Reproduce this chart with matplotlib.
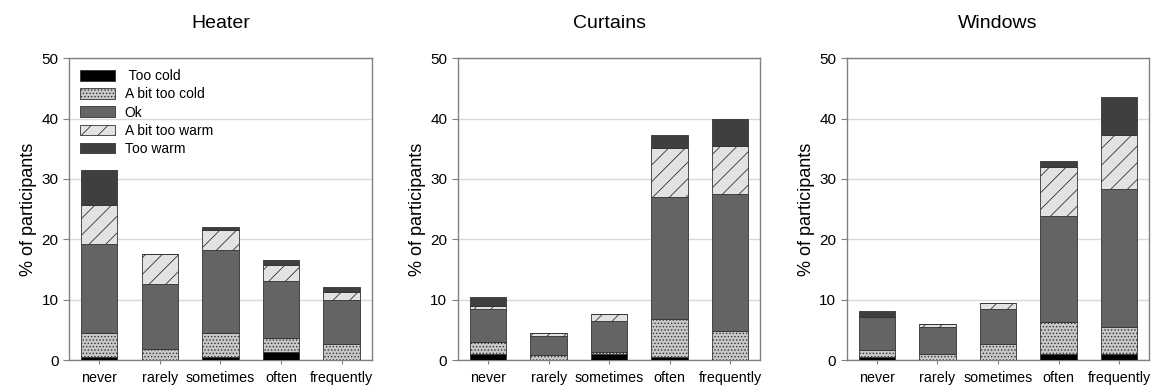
import numpy as np
import matplotlib.pyplot as plt

plt.rcParams['font.family'] = ['Liberation Sans', 'DejaVu Sans']
plt.rcParams['hatch.linewidth'] = 0.6

categories = ['never', 'rarely', 'sometimes', 'often', 'frequently']
levels = [' Too cold', 'A bit too cold', 'Ok', 'A bit too warm', 'Too warm']

# % of participants per level (rows: too cold .. too warm)
heater = [
    [0.55, 0.0, 0.5, 1.4, 0.0],
    [3.95, 1.8, 4.0, 2.2, 2.65],
    [14.8, 10.8, 13.8, 9.5, 7.25],
    [6.3, 5.0, 3.2, 2.6, 1.3],
    [5.9, 0.0, 0.5, 0.9, 0.95],
]
curtains = [
    [0.95, 0.0, 0.95, 0.45, 0.0],
    [2.05, 0.85, 0.45, 6.3, 4.8],
    [5.4, 3.2, 5.1, 20.25, 22.7],
    [0.55, 0.5, 1.1, 8.1, 8.0],
    [1.45, 0.0, 0.0, 2.25, 4.5],
]
windows = [
    [0.5, 0.0, 0.0, 0.95, 0.95],
    [1.15, 0.95, 2.65, 5.3, 4.45],
    [5.45, 4.45, 5.8, 17.65, 22.9],
    [0.0, 0.5, 1.05, 8.0, 9.0],
    [1.0, 0.0, 0.0, 1.0, 6.3],
]
titles = ['Heater', 'Curtains', 'Windows']

facecolors = ['#000000', '#c8c8c8', '#646464', '#e2e2e2', '#3f3f3f']
hatches = [None, '.....', None, '//', None]

fig = plt.figure(figsize=(11.51, 3.92), dpi=100)
lefts = [0.060, 0.3977, 0.7356]
x = np.arange(len(categories))

for i, (data, title) in enumerate(zip([heater, curtains, windows], titles)):
    ax = fig.add_axes([lefts[i], 0.0816, 0.263, 0.77])
    bottom = np.zeros(len(categories))
    for j, vals in enumerate(data):
        vals = np.array(vals)
        ax.bar(x, vals, 0.6, bottom=bottom, color=facecolors[j],
               edgecolor='#333333', linewidth=0.6, hatch=hatches[j],
               label=levels[j], zorder=3)
        bottom += vals
    ax.set_xlim(-0.5, 4.5)
    ax.set_ylim(0, 50)
    ax.set_yticks([0, 10, 20, 30, 40, 50])
    ax.set_xticks(x)
    ax.set_xticklabels(categories, fontsize=10.3)
    ax.tick_params(axis='y', labelsize=11, length=4, color='#808080')
    ax.tick_params(axis='x', length=3, pad=5, color='#808080')
    ax.yaxis.grid(True, color='#d9d9d9', linewidth=1, zorder=0)
    ax.set_axisbelow(True)
    for sp in ax.spines.values():
        sp.set_color('#808080')
        sp.set_linewidth(1)
    ax.set_ylabel('% of participants', fontsize=13, labelpad=3)
    ax.set_title(title, fontsize=14, pad=22)
    if i == 0:
        ax.legend(loc='upper left', frameon=False, fontsize=10,
                  handlelength=2.5, handleheight=0.8, labelspacing=0.3,
                  borderaxespad=0.4, handletextpad=0.7)

fig.savefig('out.png', dpi=100)
